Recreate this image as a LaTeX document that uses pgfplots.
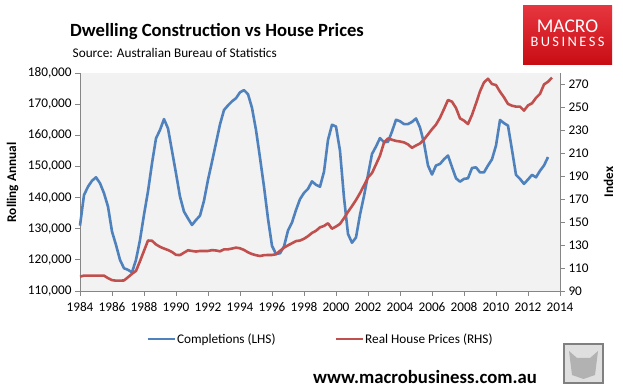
\documentclass[border=0pt]{standalone}
\usepackage{fontspec}
\setmainfont{Carlito}
\usepackage{pgfplots}
\pgfplotsset{compat=1.18}
\definecolor{blueline}{HTML}{4F81BD}
\definecolor{redline}{HTML}{C0504D}
\definecolor{plotbg}{HTML}{F2F2F2}
\definecolor{axisgrey}{HTML}{868686}
\definecolor{logored}{HTML}{E2121C}
\definecolor{logodark}{HTML}{C80C14}
\newcommand{\fs}[1]{\fontsize{#1}{#1}\selectfont}
\begin{document}
\begin{tikzpicture}
\path[use as bounding box, fill=white] (0bp,0bp) rectangle (623bp,389bp);
% title and source
\node[anchor=base west, inner sep=0pt, font=\fs{18.7}\bfseries] at (70bp,352.5bp) {Dwelling Construction vs House Prices};
\node[anchor=base west, inner sep=0pt, font=\fs{13.3}] at (72.5bp,331.5bp) {Source: Australian Bureau of Statistics};
% logo
\shade[top color=logored!85!white, bottom color=logodark] (523bp,324bp) rectangle (612bp,383bp);
\node[anchor=base, inner sep=0pt, text=white, font=\fs{19.5}] at (567.5bp,356bp) {MACRO};
\node[anchor=base, inner sep=0pt, text=white, font=\fs{14.5}] at (567.5bp,342bp) {B\,U\,S\,I\,N\,E\,S\,S};
% footer
\node[anchor=base, inner sep=0pt, font=\fs{18.8}\bfseries] at (425bp,6bp) {www.macrobusiness.com.au};
\draw[draw=gray, line width=1.2bp, fill=gray!25] (564bp,6bp) rectangle (603bp,45bp);
\fill[gray!60] (572bp,14bp) -- (583.5bp,10bp) -- (595bp,14bp) -- (598bp,38bp) -- (590bp,31bp) -- (577bp,31bp) -- (569bp,38bp) -- cycle;
% axis titles
\node[rotate=90, inner sep=0pt, font=\fs{13.3}\bfseries] at (12.5bp,206.5bp) {Rolling Annual};
\node[rotate=90, inner sep=0pt, font=\fs{13.3}\bfseries] at (608.5bp,207bp) {Index};
\begin{axis}[
  at={(80bp,98bp)}, anchor=south west,
  scale only axis, width=480bp, height=218bp,
  xmin=1984, xmax=2014, ymin=110000, ymax=180000,
  axis x line*=bottom, axis y line*=left,
  axis line style={-, draw=axisgrey, line width=0.8bp},
  axis background/.style={fill=plotbg},
  tick align=outside, major tick length=5bp,
  tick style={draw=axisgrey, line width=0.8bp},
  scaled y ticks=false, scaled x ticks=false,
  xtick={1984,1986,1988,1990,1992,1994,1996,1998,2000,2002,2004,2006,2008,2010,2012,2014},
  xticklabels={1984,1986,1988,1990,1992,1994,1996,1998,2000,2002,2004,2006,2008,2010,2012,2014},
  ytick={110000,120000,130000,140000,150000,160000,170000,180000},
  yticklabels={{110,000},{120,000},{130,000},{140,000},{150,000},{160,000},{170,000},{180,000}},
  ticklabel style={font=\fs{13.3}, text=black},
  xticklabel style={yshift=-3bp},
  clip=false,
]
\addplot[blueline, line width=2.6bp, line join=round] table {
1984.00 131000
1984.25 140800
1984.50 143500
1984.75 145400
1985.00 146500
1985.25 144600
1985.50 141400
1985.75 137100
1986.00 129100
1986.25 124800
1986.50 120000
1986.75 117300
1987.00 116800
1987.25 116000
1987.50 120000
1987.75 126400
1988.00 134500
1988.25 142000
1988.50 151000
1988.75 159000
1989.00 161700
1989.25 165200
1989.50 162200
1989.75 155000
1990.00 147800
1990.25 140300
1990.50 135500
1990.75 133300
1991.00 131200
1991.25 132800
1991.50 134200
1991.75 139000
1992.00 145700
1992.25 151500
1992.50 157500
1992.75 163500
1993.00 168100
1993.25 169600
1993.50 170900
1993.75 171900
1994.00 173800
1994.25 174500
1994.50 173200
1994.75 168800
1995.00 161700
1995.25 152800
1995.50 143500
1995.75 133200
1996.00 124500
1996.25 121900
1996.50 122100
1996.75 124300
1997.00 129400
1997.25 132000
1997.50 136000
1997.75 139500
1998.00 141500
1998.25 142800
1998.50 145200
1998.75 144100
1999.00 143500
1999.25 148300
1999.50 158500
1999.75 163400
2000.00 162800
2000.25 155000
2000.50 140000
2000.75 128300
2001.00 125500
2001.25 127200
2001.50 134500
2001.75 140500
2002.00 147300
2002.25 154000
2002.50 156400
2002.75 159100
2003.00 157800
2003.25 157900
2003.50 161200
2003.75 165000
2004.00 164500
2004.25 163600
2004.50 163600
2004.75 164300
2005.00 165400
2005.25 162500
2005.50 157500
2005.75 150300
2006.00 147400
2006.25 150300
2006.50 150800
2006.75 152300
2007.00 153500
2007.25 149800
2007.50 146200
2007.75 145100
2008.00 146000
2008.25 146200
2008.50 149500
2008.75 149700
2009.00 148100
2009.25 148100
2009.50 150300
2009.75 152300
2010.00 156700
2010.25 164900
2010.50 163900
2010.75 163100
2011.00 155300
2011.25 147300
2011.50 146000
2011.75 144400
2012.00 145800
2012.25 147300
2012.50 146500
2012.75 148600
2013.00 150300
2013.25 153000
};
\end{axis}
\begin{axis}[
  at={(80bp,98bp)}, anchor=south west,
  scale only axis, width=480bp, height=218bp,
  xmin=1984, xmax=2014, ymin=90, ymax=280,
  axis x line=none, axis y line*=right,
  axis line style={-, draw=axisgrey, line width=0.8bp},
  tick align=outside, major tick length=5bp,
  tick style={draw=axisgrey, line width=0.8bp},
  ytick={90,110,130,150,170,190,210,230,250,270},
  yticklabels={90,110,130,150,170,190,210,230,250,270},
  ticklabel style={font=\fs{13.3}, text=black},
  clip=false,
  legend columns=2,
  legend style={at={(0.5,-0.22)}, anchor=center, draw=none, fill=none,
    font=\fs{13.3}, /tikz/every even column/.append style={column sep=58bp},
    nodes={inner sep=1bp}},
  legend image code/.code={\draw[#1] (0bp,0bp) -- (27bp,0bp);},
]
\addlegendimage{blueline, line width=2.6bp}
\addplot[redline, line width=2.6bp, line join=round] table {
1984.00 102.5
1984.25 103.4
1984.50 103.4
1984.75 103.4
1985.00 103.4
1985.25 103.4
1985.50 103.4
1985.75 101.2
1986.00 99.5
1986.25 99
1986.50 99
1986.75 99.2
1987.00 102
1987.25 105
1987.50 107.5
1987.75 116
1988.00 125
1988.25 134
1988.50 133.8
1988.75 130.6
1989.00 128.5
1989.25 127
1989.50 125.7
1989.75 124
1990.00 121.5
1990.25 121.3
1990.50 123.4
1990.75 125.5
1991.00 124.9
1991.25 124.4
1991.50 124.9
1991.75 124.9
1992.00 124.9
1992.25 125.6
1992.50 125.3
1992.75 124.6
1993.00 126.3
1993.25 126.3
1993.50 127
1993.75 127.8
1994.00 127.2
1994.25 125.8
1994.50 123.7
1994.75 122.2
1995.00 121.2
1995.25 120.5
1995.50 121.2
1995.75 121.4
1996.00 121.4
1996.25 122
1996.50 125
1996.75 127.8
1997.00 129.8
1997.25 131.6
1997.50 133.5
1997.75 134
1998.00 135.5
1998.25 137.8
1998.50 140.6
1998.75 142.5
1999.00 145.5
1999.25 146.7
1999.50 149
1999.75 144.3
2000.00 146.2
2000.25 148.5
2000.50 153.5
2000.75 159
2001.00 164
2001.25 169.3
2001.50 175.3
2001.75 182
2002.00 189
2002.25 192.8
2002.50 200.3
2002.75 208
2003.00 219.3
2003.25 223
2003.50 221.8
2003.75 220.8
2004.00 220.3
2004.25 219.5
2004.50 217.8
2004.75 214.8
2005.00 216.8
2005.25 218.6
2005.50 222
2005.75 226.5
2006.00 231
2006.25 235
2006.50 241
2006.75 248.6
2007.00 256.5
2007.25 255
2007.50 249.5
2007.75 240.5
2008.00 238.5
2008.25 235.5
2008.50 243.5
2008.75 253.5
2009.00 264
2009.25 271.8
2009.50 275
2009.75 270.4
2010.00 269.5
2010.25 263.7
2010.50 258.8
2010.75 253
2011.00 251.5
2011.25 250.7
2011.50 250.7
2011.75 247.2
2012.00 251.8
2012.25 253.6
2012.50 258.3
2012.75 261.8
2013.00 270
2013.25 272.4
2013.50 276
};
\legend{Completions (LHS),Real House Prices (RHS)}
\end{axis}
\end{tikzpicture}
\end{document}
